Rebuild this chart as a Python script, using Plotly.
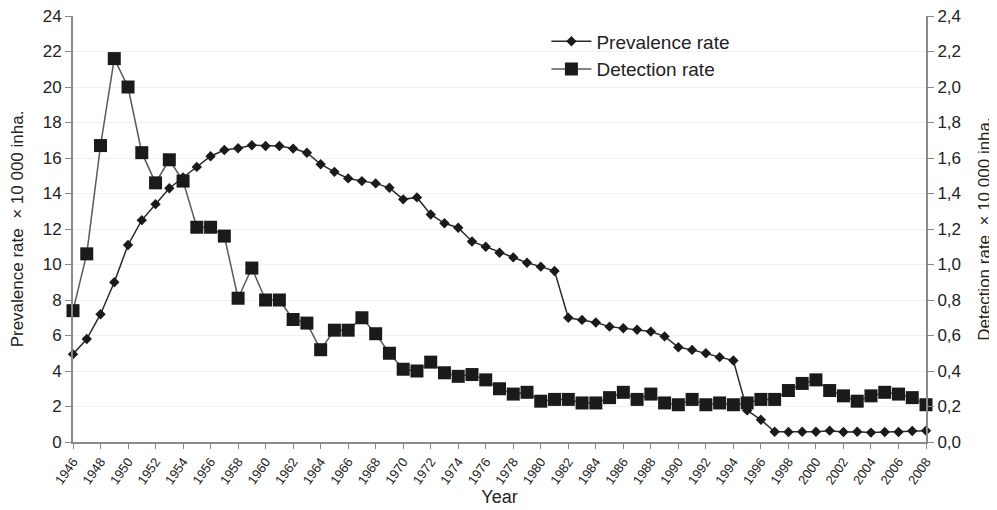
import plotly.graph_objects as go

years = list(range(1946, 2009))

prevalence = [4.95, 5.8, 7.2, 9.0, 11.1, 12.5, 13.4, 14.3, 14.9, 15.5,
              16.1, 16.45, 16.55, 16.72, 16.68, 16.68, 16.53, 16.3, 15.65, 15.22,
              14.85, 14.7, 14.57, 14.32, 13.67, 13.78, 12.82, 12.32, 12.07, 11.3,
              11.0, 10.66, 10.4, 10.1, 9.88, 9.63, 7.0, 6.88, 6.73, 6.5,
              6.41, 6.32, 6.22, 5.95, 5.34, 5.19, 5.0, 4.78, 4.59, 1.78,
              1.25, 0.58, 0.56, 0.58, 0.58, 0.64, 0.56, 0.58, 0.53, 0.56,
              0.56, 0.62, 0.64]

detection = [0.74, 1.06, 1.67, 2.16, 2.0, 1.63, 1.46, 1.59, 1.47, 1.21,
             1.21, 1.16, 0.81, 0.98, 0.80, 0.80, 0.69, 0.67, 0.52, 0.63,
             0.63, 0.70, 0.61, 0.50, 0.41, 0.40, 0.45, 0.39, 0.37, 0.38,
             0.35, 0.30, 0.27, 0.28, 0.23, 0.24, 0.24, 0.22, 0.22, 0.25,
             0.28, 0.24, 0.27, 0.22, 0.21, 0.24, 0.21, 0.22, 0.21, 0.22,
             0.24, 0.24, 0.29, 0.33, 0.35, 0.29, 0.26, 0.23, 0.26, 0.28,
             0.27, 0.25, 0.21]

left_ticks = list(range(0, 25, 2))
right_ticks = [round(i * 0.2, 1) for i in range(13)]
x_ticks = list(range(1946, 2009, 2))

font_family = "Liberation Sans, Arial, sans-serif"
axis_color = "#8a8a8a"

fig = go.Figure()
fig.add_trace(go.Scatter(
    x=years, y=prevalence, name="Prevalence rate", mode="lines+markers",
    line=dict(color="#2a2a2a", width=1.5),
    marker=dict(symbol="diamond", size=8, color="#1a1a1a"),
    cliponaxis=False, yaxis="y"))
fig.add_trace(go.Scatter(
    x=years, y=detection, name="Detection rate", mode="lines+markers",
    line=dict(color="#5a5a5a", width=1.5),
    marker=dict(symbol="square", size=13, color="#1a1a1a"),
    cliponaxis=False, yaxis="y2"))

fig.update_layout(
    width=997, height=510,
    margin=dict(l=65, r=79, t=8, b=76, autoexpand=False),
    paper_bgcolor="white", plot_bgcolor="white",
    separators=", ",
    font=dict(family=font_family, color="#222222", size=15),
    showlegend=True,
    legend=dict(x=0.555, y=0.985, xanchor="left", yanchor="top",
                bgcolor="rgba(0,0,0,0)", font=dict(size=19),
                itemwidth=40, tracegroupgap=0),
    xaxis=dict(range=[1946, 2008], tickvals=x_ticks, ticktext=[str(v) for v in x_ticks],
               tickangle=-55, tickfont=dict(size=13), automargin=False,
               ticklabeloverflow="allow",
               showline=True, linecolor=axis_color, linewidth=2,
               ticks="outside", ticklen=5, tickcolor=axis_color,
               showgrid=False, zeroline=False,
               title=dict(text="Year", font=dict(size=18), standoff=4)),
    yaxis=dict(range=[0, 24], tickvals=left_ticks, tickformat="d", automargin=False,
               ticklabeloverflow="allow",
               showline=True, linecolor=axis_color, linewidth=2,
               ticks="outside", ticklen=6, tickcolor=axis_color,
               showgrid=True, gridcolor="#f1f1f1", zeroline=False,
               tickfont=dict(size=17),
               title=dict(text="Prevalence rate  × 10 000 inha.", font=dict(size=17), standoff=16)),
    yaxis2=dict(range=[0, 2.4], tickvals=right_ticks, tickformat=".1f",
                overlaying="y", side="right", automargin=False,
                ticklabeloverflow="allow",
                showline=True, linecolor=axis_color, linewidth=2,
                ticks="outside", ticklen=6, tickcolor=axis_color,
                showgrid=False, zeroline=False,
                tickfont=dict(size=17),
                title=dict(text="Detection rate  × 10 000 inha.", font=dict(size=17), standoff=18)),
)

fig.write_html("out.html")
